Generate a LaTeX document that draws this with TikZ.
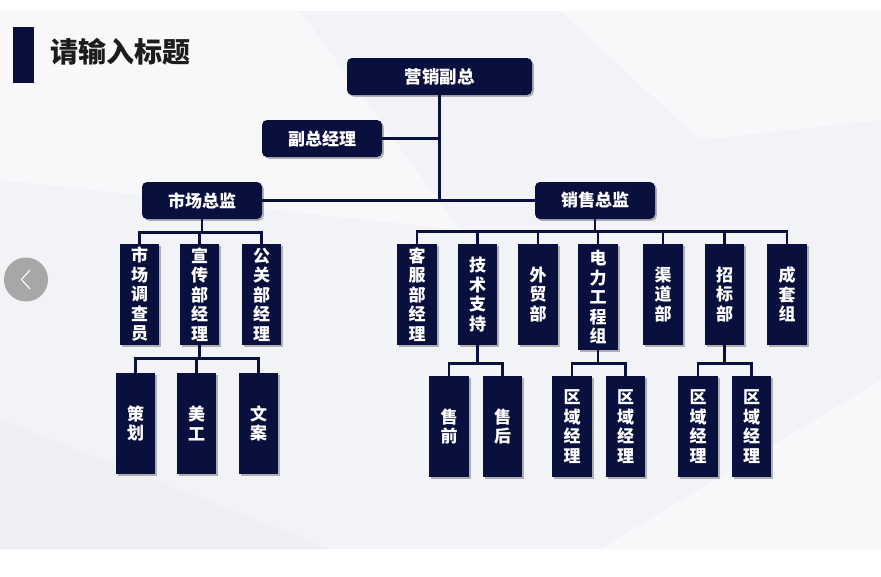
\documentclass[tikz,border=0pt]{standalone}
\usepackage{fontspec}
\newfontfamily\cjk{Noto Sans CJK SC}
\usetikzlibrary{shadows}
\definecolor{navy}{RGB}{10,16,62}
\definecolor{bgA}{RGB}{242,243,246}
\definecolor{bgB}{RGB}{248,248,250}
\definecolor{bgC}{RGB}{238,239,242}
\definecolor{titlec}{RGB}{28,28,30}
\tikzset{
  box/.style={fill=navy, text=white, inner sep=0pt, align=center,
    font=\cjk\bfseries\fontsize{17}{19.5}\selectfont,
    drop shadow={shadow xshift=1.8pt, shadow yshift=-1.8pt, opacity=0.28, fill=black}},
  hbox/.style={box, rounded corners=5pt, minimum width=120pt, minimum height=37pt},
  vbox/.style={box, minimum width=39.5pt, minimum height=101pt},
  conn/.style={draw=navy, line width=2.6pt}
}
\begin{document}
\begin{tikzpicture}[x=1pt,y=-1pt]
\useasboundingbox (0,0) rectangle (881,576);
% background
\fill[white] (0,0) rectangle (881,576);
\fill[bgA] (0,11) rectangle (881,549);
\fill[bgB] (0,11) -- (300,11) -- (460,230) -- (0,180) -- cycle;
\fill[bgB] (560,11) -- (881,11) -- (881,120) -- (700,140) -- cycle;
\fill[bgC] (0,549) -- (0,420) -- (330,549) -- cycle;
\fill[bgB] (600,549) -- (881,380) -- (881,549) -- cycle;
% title
\fill[navy] (12.5,27) rectangle (33.5,83);
\node[anchor=west, inner sep=0pt, text=titlec, font=\cjk\bfseries\fontsize{28}{30}\selectfont] (title) at (50,52) {请输入标题};
% back button
\fill[gray!75, opacity=0.9] (26,279.5) circle (22);
\draw[white, line width=1.1pt] (30,270) -- (21.5,279.5) -- (30,289);
% level 1
\node[hbox, minimum width=185pt, font=\cjk\bfseries\fontsize{17.5}{19.5}\selectfont] (vp) at (439.5,76.5) {营销副总};
\node[hbox] (fz) at (322,138.5) {副总经理};
\node[hbox] (mk) at (202,200.5) {市场总监};
\node[hbox] (sl) at (595,200.5) {销售总监};
% market children
\node[vbox] (m1) at (139.5,294.5) {市\\场\\调\\查\\员};
\node[vbox] (m2) at (199.5,294.5) {宣\\传\\部\\经\\理};
\node[vbox] (m3) at (261.5,294.5) {公\\关\\部\\经\\理};
\node[vbox] (c1) at (135.5,423.5) {策\\划};
\node[vbox] (c2) at (196.5,423.5) {美\\工};
\node[vbox] (c3) at (258.5,423.5) {文\\案};
% sales children
\node[vbox] (s1) at (417,294.5) {客\\服\\部\\经\\理};
\node[vbox] (s2) at (477.5,294.5) {技\\术\\支\\持};
\node[vbox] (s3) at (538,294.5) {外\\贸\\部};
\node[vbox, minimum height=106pt] (s4) at (598,297) {电\\力\\工\\程\\组};
\node[vbox] (s5) at (663,294.5) {渠\\道\\部};
\node[vbox] (s6) at (724.5,294.5) {招\\标\\部};
\node[vbox] (s7) at (787,294.5) {成\\套\\组};
% grandchildren
\node[vbox] (g1) at (449,426.5) {售\\前};
\node[vbox] (g2) at (502.5,426.5) {售\\后};
\node[vbox] (g3) at (572,426.5) {区\\域\\经\\理};
\node[vbox] (g4) at (625.5,426.5) {区\\域\\经\\理};
\node[vbox] (g5) at (698,426.5) {区\\域\\经\\理};
\node[vbox] (g6) at (751.5,426.5) {区\\域\\经\\理};
% connectors
\coordinate (j1) at (vp.south |- mk.east);
\draw[conn] (vp.south) -- (j1);
\draw[conn] (fz.east) -- (fz.east -| vp.south);
\draw[conn] (mk.east) -- (sl.west);
\foreach \c in {m1,m2,m3} \draw[conn] (mk.south) -- ++(0,13) -| (\c.north);
\foreach \c in {c1,c2,c3} \draw[conn] (m2.south) -- ++(0,13) -| (\c.north);
\foreach \c in {s1,s2,s3,s4,s5,s6,s7} \draw[conn] (sl.south) -- ++(0,12.5) -| (\c.north);
\foreach \c in {g1,g2} \draw[conn] (s2.south) -- ++(0,18) -| (\c.north);
\foreach \c in {g3,g4} \draw[conn] (s4.south) -- ++(0,13) -| (\c.north);
\foreach \c in {g5,g6} \draw[conn] (s6.south) -- ++(0,18) -| (\c.north);
\end{tikzpicture}
\end{document}
